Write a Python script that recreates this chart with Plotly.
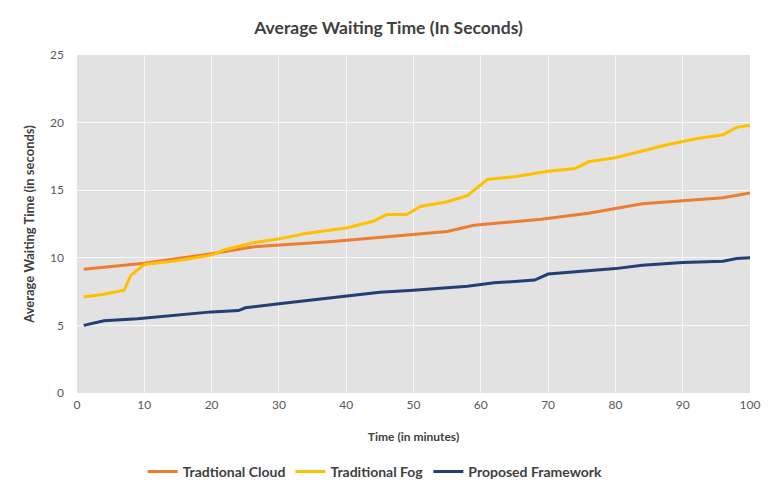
import plotly.graph_objects as go

# Average waiting time (seconds) over elapsed time (minutes)
cloud_time = [1, 10, 20, 26, 38, 50, 55, 59, 69, 76, 84, 96, 100]
cloud_wait = [9.15, 9.6, 10.3, 10.8, 11.2, 11.7, 11.95, 12.4, 12.85, 13.3, 14.0, 14.45, 14.8]

fog_time = [1, 4, 7, 8, 10, 15, 20, 22, 26, 30, 34, 40, 44, 46, 49, 51, 55, 58, 61,
            65, 70, 74, 76, 80, 84, 88, 92, 96, 98, 100]
fog_wait = [7.1, 7.3, 7.6, 8.7, 9.5, 9.8, 10.2, 10.6, 11.1, 11.4, 11.8, 12.2, 12.7, 13.2,
            13.2, 13.8, 14.15, 14.6, 15.8, 16.0, 16.4, 16.6, 17.1, 17.4, 17.9, 18.4, 18.8,
            19.1, 19.65, 19.8]

prop_time = [1, 4, 9, 15, 20, 24, 25, 30, 35, 40, 45, 50, 55, 58, 62, 68, 70, 76, 80,
             84, 90, 96, 98, 100]
prop_wait = [5.0, 5.35, 5.5, 5.75, 6.0, 6.1, 6.3, 6.6, 6.9, 7.15, 7.45, 7.6, 7.8, 7.9,
             8.15, 8.35, 8.8, 9.05, 9.2, 9.45, 9.65, 9.75, 9.95, 10.0]

series_names = ["Tradtional Cloud", "Traditional Fog", "Proposed Framework"]
x_ticks = [0, 10, 20, 30, 40, 50, 60, 70, 80, 90, 100]
y_ticks = [0, 5, 10, 15, 20, 25]

FONT = "Lato, 'Open Sans', sans-serif"
TEXT = "#595959"
DARK = "#404040"

fig = go.Figure()
for t, w, name, color in [
    (cloud_time, cloud_wait, series_names[0], "#ED7D31"),
    (fog_time, fog_wait, series_names[1], "#FFC000"),
    (prop_time, prop_wait, series_names[2], "#233F74"),
]:
    fig.add_trace(go.Scatter(x=t, y=w, mode="lines", name="<b>" + name + "</b>",
                             line=dict(color=color, width=3)))

fig.update_layout(
    width=777, height=494,
    margin=dict(l=77, r=27, t=55, b=101),
    paper_bgcolor="white",
    plot_bgcolor="#e2e2e2",
    font=dict(family=FONT, size=12, color=TEXT),
    title=dict(text="<b>Average Waiting Time (In Seconds)</b>", x=0.5, xanchor="center",
               y=1 - 28 / 494, yanchor="middle", automargin=False,
               font=dict(family=FONT, size=17.5, color=DARK)),
    xaxis=dict(range=[0, 100], tickvals=x_ticks, showgrid=True, gridcolor="#f7f7f7",
               gridwidth=1, zeroline=False, showline=False, ticks="",
               ticklabelstandoff=3, automargin=False,
               tickfont=dict(size=12, color=TEXT),
               title=dict(text="<b>Time (in minutes)</b>", standoff=21,
                          font=dict(size=12, color=DARK))),
    yaxis=dict(range=[0, 25], tickvals=y_ticks, showgrid=True, gridcolor="#f7f7f7",
               gridwidth=1, zeroline=False, showline=False, ticks="",
               ticklabelstandoff=12, automargin=False,
               tickfont=dict(size=12, color=TEXT),
               title=dict(text="<b>Average Waiting Time (in seconds)</b>", standoff=12,
                          font=dict(size=13, color=DARK))),
    legend=dict(orientation="h", x=0.443, xanchor="center",
                yref="container", y=(494 - 456) / 494, yanchor="top",
                font=dict(size=14, color=DARK), bgcolor="rgba(0,0,0,0)",
                itemwidth=30),
)

fig.write_html("out.html")
